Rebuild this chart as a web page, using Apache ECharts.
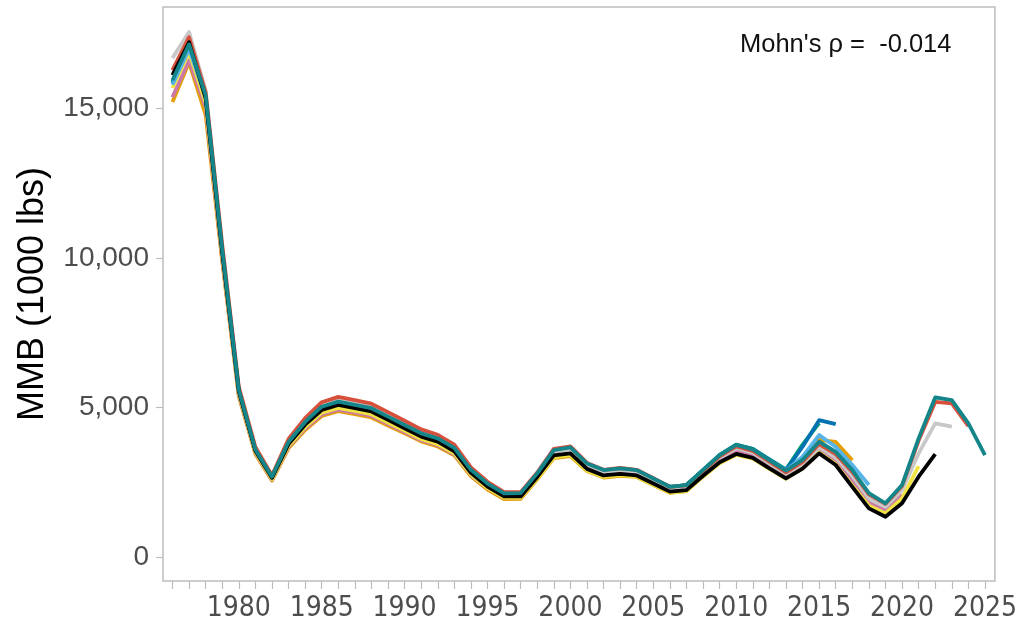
<!DOCTYPE html>
<html>
<head>
<meta charset="utf-8">
<script src="https://cdn.jsdelivr.net/npm/echarts@6/dist/echarts.min.js"></script>
<style>
  html, body { margin: 0; padding: 0; background: #ffffff; }
  #chart { width: 1020px; height: 626px; }
</style>
</head>
<body>
<div id="chart"></div>
<script>
// Retrospective MMB estimates; each peel drops one terminal year.
const startYear = 1976;
const yTicks = [0, 5000, 10000, 15000];
const xLabelYears = [1980, 1985, 1990, 1995, 2000, 2005, 2010, 2015, 2020, 2025];
const mohnsRho = '-0.014';

// Peel ending 2017
const mmb2017 = [15220, 16550, 14800, 9900, 5380, 3450, 2560, 3640, 4250, 4720, 4880, 4780, 4670, 4400, 4140, 3870, 3700, 3400, 2700, 2260, 1940, 1950, 2600, 3310, 3380, 2880, 2660, 2720, 2680, 2410, 2150, 2210, 2710, 3230, 3600, 3470, 3130, 2800, 3250, 3920, 3850, 3240];
// Peel ending 2020
const mmb2020 = [15380, 16620, 15050, 10000, 5430, 3480, 2590, 3680, 4300, 4770, 4930, 4830, 4720, 4450, 4180, 3910, 3740, 3440, 2740, 2300, 1990, 2000, 2650, 3380, 3460, 2950, 2740, 2800, 2750, 2480, 2220, 2280, 2760, 3230, 3540, 3400, 3060, 2730, 3080, 3620, 3250, 2550, 1820, 1560, 2100];
// Peel ending 2021
const mmb2021 = [15690, 16890, 15200, 10100, 5480, 3510, 2610, 3720, 4350, 4830, 4990, 4890, 4780, 4500, 4230, 3950, 3780, 3470, 2760, 2310, 1990, 1990, 2630, 3340, 3410, 2900, 2680, 2740, 2690, 2420, 2160, 2210, 2690, 3140, 3420, 3290, 2950, 2620, 2970, 3500, 3110, 2400, 1720, 1460, 1960, 3040];
// Peel ending 2015
const mmb2015 = [15900, 17080, 15430, 10280, 5600, 3600, 2680, 3840, 4510, 5010, 5180, 5070, 4960, 4680, 4400, 4120, 3950, 3630, 2900, 2440, 2110, 2120, 2780, 3560, 3650, 3120, 2900, 2960, 2900, 2620, 2350, 2410, 2920, 3420, 3760, 3620, 3270, 2930, 3760, 4480];
// Peel ending 2016
const mmb2016 = [15850, 17050, 15420, 10270, 5590, 3600, 2680, 3840, 4510, 5010, 5180, 5070, 4960, 4680, 4400, 4120, 3950, 3630, 2900, 2440, 2110, 2120, 2780, 3560, 3650, 3120, 2900, 2960, 2900, 2620, 2350, 2410, 2910, 3410, 3750, 3610, 3260, 2910, 3690, 4580, 4450];
// Peel ending 2018
const mmb2018 = [15800, 17000, 15400, 10250, 5580, 3590, 2670, 3830, 4490, 4990, 5160, 5050, 4940, 4660, 4380, 4100, 3930, 3610, 2880, 2420, 2090, 2100, 2760, 3530, 3620, 3090, 2870, 2930, 2870, 2590, 2320, 2380, 2880, 3390, 3720, 3580, 3230, 2900, 3360, 4080, 3690, 3080, 2410];
// Peel ending 2023
const mmb2023 = [16690, 17560, 15600, 10400, 5650, 3640, 2700, 3880, 4560, 5080, 5250, 5140, 5020, 4740, 4450, 4160, 3990, 3660, 2920, 2450, 2100, 2110, 2760, 3520, 3600, 3070, 2850, 2910, 2850, 2570, 2290, 2340, 2830, 3320, 3640, 3490, 3130, 2780, 3110, 3680, 3330, 2720, 1960, 1680, 2240, 3470, 4470, 4360];
// Peel ending 2024
const mmb2024 = [16290, 17390, 15550, 10450, 5700, 3680, 2730, 3950, 4650, 5180, 5360, 5250, 5130, 4850, 4560, 4270, 4090, 3760, 3000, 2520, 2170, 2170, 2830, 3620, 3700, 3150, 2920, 2980, 2920, 2640, 2350, 2400, 2880, 3370, 3700, 3550, 3190, 2830, 3180, 3780, 3440, 2850, 2100, 1780, 2380, 3900, 5190, 5140, 4380];
// Peel ending 2022
const mmb2022 = [16120, 17220, 15350, 10200, 5550, 3560, 2650, 3780, 4430, 4920, 5090, 4980, 4870, 4590, 4310, 4030, 3860, 3540, 2820, 2360, 2030, 2030, 2680, 3400, 3470, 2950, 2730, 2780, 2730, 2460, 2190, 2240, 2720, 3170, 3450, 3320, 2970, 2630, 2960, 3470, 3080, 2350, 1630, 1350, 1800, 2690, 3440];
// Full model, terminal year 2025
const mmb2025 = [15950, 17150, 15450, 10300, 5600, 3600, 2690, 3850, 4520, 5030, 5200, 5090, 4980, 4700, 4420, 4140, 3970, 3650, 2920, 2460, 2130, 2140, 2800, 3580, 3670, 3130, 2910, 2970, 2910, 2630, 2350, 2410, 2910, 3410, 3750, 3600, 3240, 2890, 3250, 3860, 3520, 2910, 2140, 1800, 2410, 3970, 5340, 5250, 4470, 3410];

// Drawing order: later entries sit on top.
const runs = [
  { name: '2017', values: mmb2017, color: '#E69F00' },
  { name: '2020', values: mmb2020, color: '#CC79A7' },
  { name: '2021', values: mmb2021, color: '#F0E442' },
  { name: '2015', values: mmb2015, color: '#009E73' },
  { name: '2016', values: mmb2016, color: '#0072B2' },
  { name: '2018', values: mmb2018, color: '#56B4E9' },
  { name: '2023', values: mmb2023, color: '#C8C8C8' },
  { name: '2024', values: mmb2024, color: '#D6503C' },
  { name: '2022', values: mmb2022, color: '#000000' },
  { name: '2025', values: mmb2025, color: '#14868A' }
];

const allYears = [];
for (let y = startYear; y <= 2025; y++) allYears.push(y);

const series = runs.map(r => ({
  name: r.name,
  type: 'line',
  data: r.values.map((v, i) => [startYear + i, v]),
  symbol: 'none',
  lineStyle: { color: r.color, width: 3.8, join: 'round', cap: 'butt' },
  itemStyle: { color: r.color },
  silent: true,
  animation: false
}));

const chart = echarts.init(document.getElementById('chart'), null, { renderer: 'canvas' });
chart.setOption({
  backgroundColor: '#ffffff',
  animation: false,
  grid: {
    left: 163, right: 24, top: 7, bottom: 45,
    show: true, borderColor: '#bdbdbd', borderWidth: 1.5, backgroundColor: '#ffffff'
  },
  xAxis: {
    type: 'value',
    min: 1975.43,
    max: 2025.6,
    axisLine: { show: false, onZero: false },
    splitLine: { show: false },
    axisTick: {
      show: true, inside: false, length: 8,
      customValues: allYears,
      lineStyle: { color: '#bdbdbd', width: 1.2 }
    },
    axisLabel: {
      customValues: xLabelYears,
      color: '#4d4d4d',
      fontFamily: '"Liberation Sans Narrow", "DejaVu Sans Condensed", "Liberation Sans", sans-serif',
      fontSize: 28,
      margin: 14,
      formatter: v => String(v)
    }
  },
  yAxis: {
    type: 'value',
    min: -800,
    max: 18400,
    name: 'MMB (1000 lbs)',
    nameLocation: 'middle',
    nameRotate: 90,
    nameGap: 112,
    nameTextStyle: {
      color: '#000000',
      fontFamily: 'Liberation Sans, Arial, sans-serif',
      fontSize: 36
    },
    axisLine: { show: false, onZero: false },
    splitLine: { show: false },
    axisTick: {
      show: true, inside: false, length: 7,
      customValues: yTicks,
      lineStyle: { color: '#bdbdbd', width: 1.2 }
    },
    axisLabel: {
      customValues: yTicks,
      color: '#4d4d4d',
      fontFamily: 'Liberation Sans, Arial, sans-serif',
      fontSize: 28,
      margin: 14,
      formatter: v => v.toLocaleString('en-US')
    }
  },
  graphic: [{
    type: 'text',
    left: 740,
    top: 32,
    style: {
      text: "Mohn's \u03C1 =  " + mohnsRho,
      fill: '#111111',
      font: '25.5px "Liberation Sans", Arial, sans-serif'
    }
  }],
  series: series
});
</script>
</body>
</html>
